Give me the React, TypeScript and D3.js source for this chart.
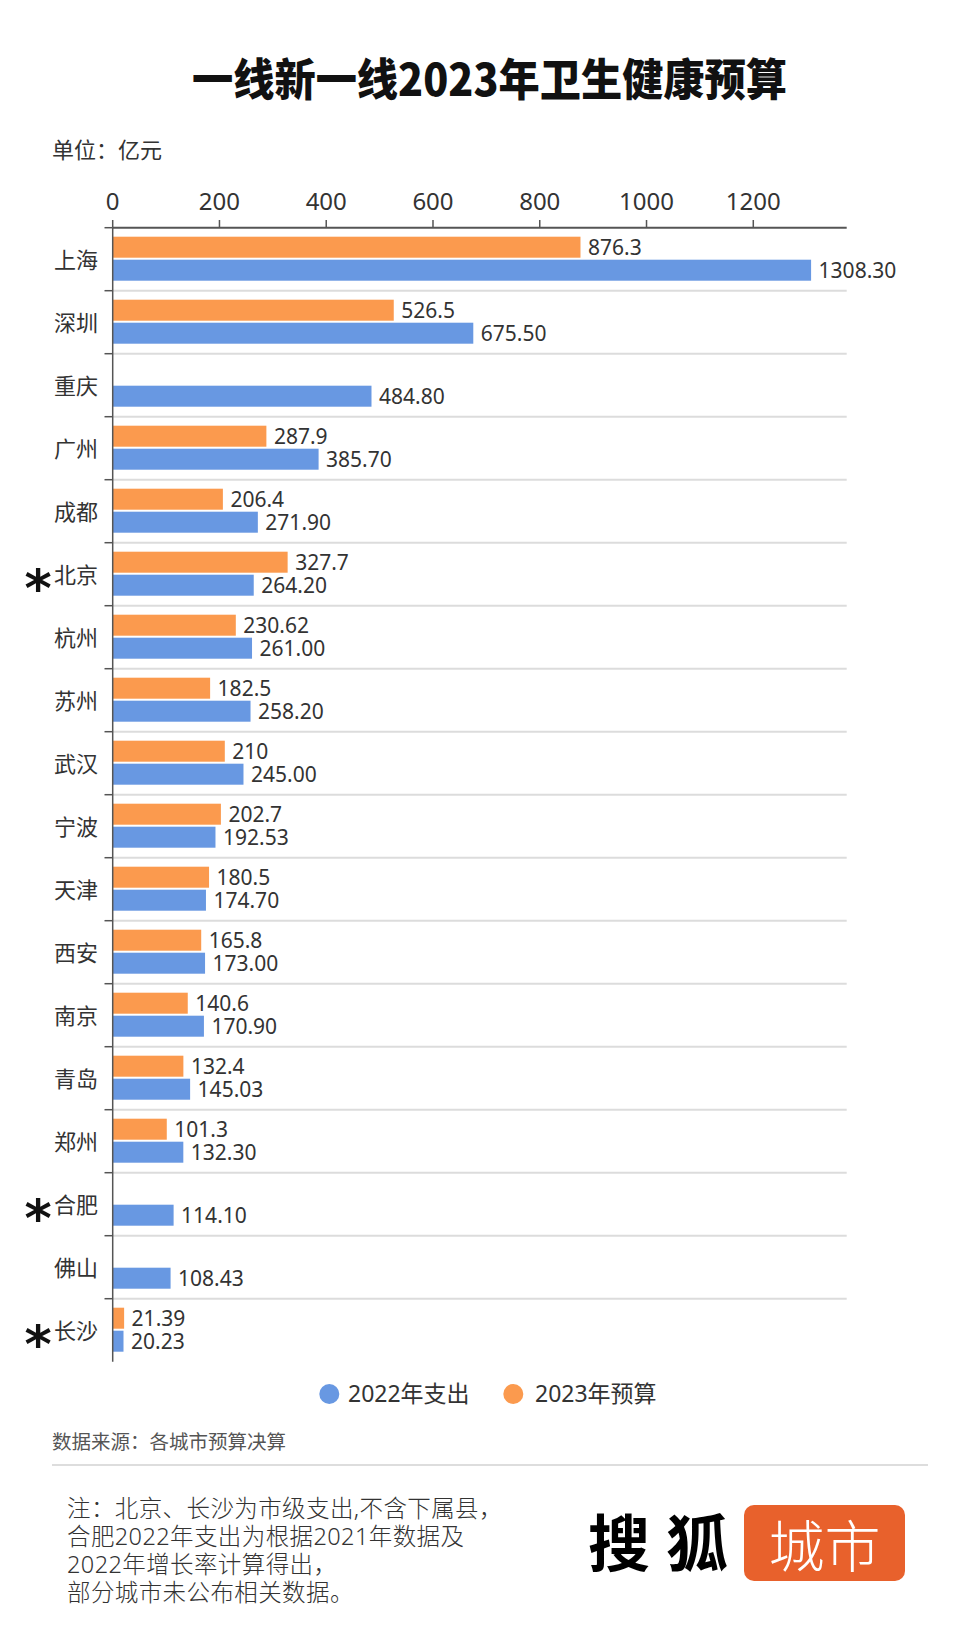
import React from "react";
import * as d3 from "d3";

const cities = ["上海", "深圳", "重庆", "广州", "成都", "北京", "杭州", "苏州", "武汉", "宁波", "天津", "西安", "南京", "青岛", "郑州", "合肥", "佛山", "长沙"];
const starred = ["北京", "合肥", "长沙"];
const spend2022 = [1308.3, 675.5, 484.8, 385.7, 271.9, 264.2, 261.0, 258.2, 245.0, 192.53, 174.7, 173.0, 170.9, 145.03, 132.3, 114.1, 108.43, 20.23];
const budget2023: (number | null)[] = [876.3, 526.5, null, 287.9, 206.4, 327.7, 230.62, 182.5, 210, 202.7, 180.5, 165.8, 140.6, 132.4, 101.3, null, null, 21.39];
const xTicks = [0, 200, 400, 600, 800, 1000, 1200];
const seriesKeys = ["y2023", "y2022"];
const seriesNames = ["2022年支出", "2023年预算"];
const notes = ["注：北京、长沙为市级支出,不含下属县，", "合肥2022年支出为根据2021年数据及", "2022年增长率计算得出，", "部分城市未公布相关数据。"];

const BLUE = "#6898E2";
const ORANGE = "#FB9A4E";
const FONT = "'Noto Sans', 'Noto Sans CJK SC', sans-serif";
const CJK = "'Noto Sans CJK SC', sans-serif";

export default function App() {
  const x = d3.scaleLinear().domain([0, 1375]).range([112.7, 846.7]);
  const y = d3.scaleBand<string>().domain(cities).range([227.7, 1361.7]);
  const sub = d3.scaleBand<string>().domain(seriesKeys).range([-0.5, 62.5]).paddingInner(0.087).paddingOuter(0.413);
  const step = y.step();
  const bw = sub.bandwidth();
  const x0 = x(0);

  return (
    <svg width={978} height={1646} style={{ position: "absolute", left: 0, top: 0, background: "#fff" }} fontFamily={FONT}>
      <rect width={978} height={1646} fill="#fff" />
      <text x={489.5} y={96} textAnchor="middle" fontFamily={CJK} fontWeight={900} fontSize={44} textLength={595} lengthAdjust="spacingAndGlyphs" fill="#111">一线新一线2023年卫生健康预算</text>
      <text x={52} y={158} fontFamily={CJK} fontSize={22} fill="#333">单位：亿元</text>

      {/* separators */}
      {cities.slice(1).map((c) => (
        <line key={"sep" + c} x1={x0} x2={x(1375)} y1={y(c)!} y2={y(c)!} stroke="#dcdcdc" strokeWidth={2} />
      ))}

      {/* bars */}
      {cities.map((c, i) => {
        const top = y(c)!;
        const b = budget2023[i];
        const s = spend2022[i];
        const oy = top + sub("y2023")!;
        const by = top + sub("y2022")!;
        return (
          <g key={"bar" + c}>
            {b !== null && (
              <>
                <rect x={x0} y={oy} width={x(b) - x0} height={bw} fill={ORANGE} />
                <text x={x(b) + 7.5} y={oy + bw / 2 + 8} fontSize={21} fill="#333">{String(b)}</text>
              </>
            )}
            <rect x={x0} y={by} width={x(s) - x0} height={bw} fill={BLUE} />
            <text x={x(s) + 7.5} y={by + bw / 2 + 8} fontSize={21} fill="#333">{s.toFixed(2)}</text>
            <text x={98} y={top + step / 2 + 8.5} textAnchor="end" fontFamily={CJK} fontSize={22} fill="#333">{c}</text>
            {starred.includes(c) && (
              <text x={38} y={top + step / 2 + 32} textAnchor="middle" fontFamily="'DejaVu Sans', sans-serif" fontWeight={700} fontSize={52} fill="#111">*</text>
            )}
          </g>
        );
      })}

      {/* top axis */}
      <line x1={x0} x2={x(1375)} y1={227.7} y2={227.7} stroke="#555" strokeWidth={2} />
      {xTicks.map((t) => (
        <g key={"t" + t}>
          <line x1={x(t)} x2={x(t)} y1={220} y2={227.7} stroke="#555" strokeWidth={1.5} />
          <text x={x(t)} y={210} textAnchor="middle" fontSize={24} fill="#333">{t}</text>
        </g>
      ))}
      {/* y axis */}
      <line x1={x0} x2={x0} y1={227.7} y2={1361.7} stroke="#555" strokeWidth={1.5} />
      {cities.map((c) => (
        <line key={"yt" + c} x1={104.5} x2={x0} y1={y(c)!} y2={y(c)!} stroke="#555" strokeWidth={1.5} />
      ))}

      {/* legend */}
      <circle cx={329.3} cy={1394} r={10} fill={BLUE} />
      <text x={348} y={1402} fontSize={23} fill="#333">{seriesNames[0]}</text>
      <circle cx={513.3} cy={1394} r={10} fill={ORANGE} />
      <text x={535} y={1402} fontSize={23} fill="#333">{seriesNames[1]}</text>

      <text x={52} y={1449} fontFamily={CJK} fontSize={19.5} fill="#555">数据来源：各城市预算决算</text>
      <line x1={52} x2={928} y1={1465} y2={1465} stroke="#ddd" strokeWidth={2} />

      {notes.map((n, i) => (
        <text key={"n" + i} x={67} y={1517 + i * 28} fontSize={23.5} letterSpacing={0.4} fontWeight={300} fill="#333">{n}</text>
      ))}

      {/* logo */}
      <text x={588} y={1567} fontFamily={CJK} fontWeight={700} fontSize={62} letterSpacing={16} fill="#000">搜狐</text>
      <rect x={744} y={1505} width={161} height={76} rx={10} fill="#E8612C" />
      <text x={824.5} y={1567} textAnchor="middle" fontFamily={CJK} fontWeight={300} fontSize={56} fill="#fff">城市</text>
    </svg>
  );
}
